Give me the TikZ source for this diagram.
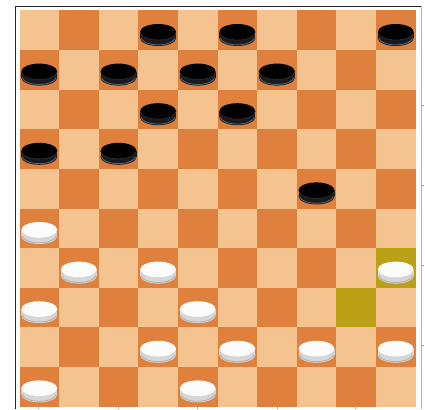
\documentclass[tikz,border=0pt]{standalone}
\definecolor{lightsq}{RGB}{244,195,143}
\definecolor{darksq}{RGB}{223,128,60}
\definecolor{olivesq}{RGB}{188,160,22}
\definecolor{bside}{RGB}{24,26,30}
\definecolor{brim}{RGB}{90,104,120}
\definecolor{wside}{RGB}{214,214,214}
\definecolor{wrim}{RGB}{176,176,176}
\tikzset{
  blackpc/.pic={
    \fill[bside] (0,6) ellipse [x radius=18pt, y radius=8pt];
    \fill[bside] (-18,0) rectangle (18,6);
    \draw[brim, line width=0.8pt] (-17,6) arc [start angle=185, end angle=355, x radius=17pt, y radius=7.5pt];
    \fill[black] (0,0) ellipse [x radius=18pt, y radius=8pt];
    \draw[black!75, line width=0.4pt] (-18,0) arc [start angle=180, end angle=360, x radius=18pt, y radius=8pt];
  },
  whitepc/.pic={
    \fill[wside] (0,6) ellipse [x radius=18pt, y radius=8pt];
    \fill[wside] (-18,0) rectangle (18,6);
    \draw[wrim, line width=0.8pt] (-17,6) arc [start angle=185, end angle=355, x radius=17pt, y radius=7.5pt];
    \fill[white!98!gray] (0,0) ellipse [x radius=18pt, y radius=8pt];
    \draw[gray!35, line width=0.4pt] (-18,0) arc [start angle=180, end angle=360, x radius=18pt, y radius=8pt];
  },
  frameline/.style={line width=0.9pt},
  tickmark/.style={gray!70, line width=0.6pt}
}
\begin{document}
\begin{tikzpicture}[x=1pt,y=-1pt]
  \useasboundingbox (0,0) rectangle (425,409);
  \fill[white] (0,0) rectangle (425,409);
  \def\xo{19.5}\def\yo{10.5}\def\sq{39.6}
  % squares
  \foreach \r in {0,...,9}{
    \foreach \c in {0,...,9}{
      \pgfmathtruncatemacro{\parity}{mod(\r+\c,2)}
      \ifnum\parity=0
        \fill[lightsq] ({\xo+\c*\sq},{\yo+\r*\sq}) rectangle ++(\sq,\sq);
      \else
        \fill[darksq] ({\xo+\c*\sq},{\yo+\r*\sq}) rectangle ++(\sq,\sq);
      \fi
    }
  }
  % highlighted squares
  \foreach \r/\c in {6/9,7/8}{
    \fill[olivesq] ({\xo+\c*\sq},{\yo+\r*\sq}) rectangle ++(\sq,\sq);
  }
  % frame
  \draw[black!85, frameline] (15,409) -- (15,6) -- (421,6);
  \draw[gray!60, frameline] (421,6) -- (421,409);
  % ticks
  \foreach \y in {105,185,265,345}{ \draw[tickmark] (421,\y) -- (424,\y); }
  \foreach \x in {38,118,197,277,355}{ \draw[tickmark] (\x,406) -- (\x,409); }
  % black pieces
  \foreach \r/\c in {0/3,0/5,0/9,1/0,1/2,1/4,1/6,2/3,2/5,3/0,3/2,4/7}{
    \pic at ({\xo+(\c+0.5)*\sq},{\yo+(\r+0.5)*\sq+1.7}) {blackpc};
  }
  % white pieces
  \foreach \r/\c in {5/0,6/1,6/3,6/9,7/0,7/4,8/3,8/5,8/7,8/9,9/0,9/4}{
    \pic at ({\xo+(\c+0.5)*\sq},{\yo+(\r+0.5)*\sq+1.7}) {whitepc};
  }
\end{tikzpicture}
\end{document}
